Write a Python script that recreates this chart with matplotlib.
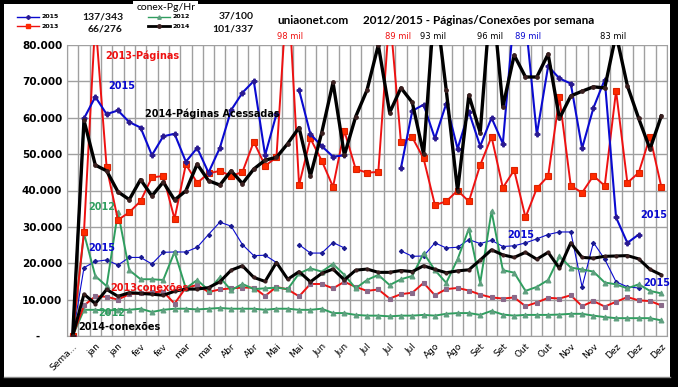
import numpy as np
import matplotlib.pyplot as plt
from matplotlib.patches import Rectangle
from matplotlib.lines import Line2D

nan = np.nan

# 53 categorias: "Semana" + 52 semanas, rotulo a cada 2
rotulos = ["Sema...", "jan", "jan", "fev", "fev", "mar", "mar", "Abr", "Abr",
           "Mai", "Mai", "Jun", "Jun", "Jul", "Jul", "Jul", "Ago", "Ago",
           "Set", "Set", "Out", "Out", "Nov", "Nov", "Dez", "Dez", "Dez"]

# paginas por semana
pg2015 = [0, 59800, 65750, 61000, 62000, 58800, 57300, 49700, 54900, 55600,
          47900, 51700, 44900, 51700, 62100, 66900, 70100, 49700, 61000, nan,
          67600, 55500, 52200, 49300, 49700, nan, nan, nan, nan, 46200,
          61900, 63600, 54300, 63900, 51500, 61600, 52200, 60000, 52900, 89000,
          87000, 55400, 74200, 70800, 69400, 51600, 62700, 70500, 32600, 25600,
          27900, nan, nan]
pg2013 = [0, 28600, 87000, 46400, 31900, 34000, 37100, 43600, 44000, 32200,
          47200, 42100, 44700, 45400, 43950, 45100, 53400, 46800, 49100, 98000,
          41500, 54300, 48200, 41000, 56400, 45900, 44900, 45100, 89000, 53200,
          54600, 48800, 36000, 37000, 40000, 37000, 47000, 54800, 40750, 45600,
          32600, 40600, 43950, 65600, 41300, 39400, 44050, 41300, 67400, 42100,
          44900, 54800, 41000]
pg2014 = [0, 59300, 47000, 45400, 39650, 37500, 43000, 38500, 42300, 37400,
          39900, 47250, 42700, 41500, 45400, 41900, 45900, 48350, 49100, 52900,
          57300, 44000, 55900, 69700, 49700, 60300, 67600, 80000, 61400, 68200,
          64200, 50000, 93000, 67600, 39900, 66200, 55900, 96000, 63000, 77200,
          71200, 71200, 77500, 59800, 66000, 67300, 68500, 68200, 83000, 68800,
          59800, 51400, 60500]
pg2012 = [0, 28200, 16500, 13700, 34100, 18100, 15600, 15600, 15400, 23100,
          13100, 15400, 12600, 16100, 12600, 14300, 12900, 13100, 13300, 12900,
          17200, 18600, 17700, 19800, 16800, 13100, 15400, 16800, 14000, 15600,
          16500, 22800, 18100, 14600, 21100, 29500, 14600, 34300, 18100, 17400,
          12400, 13500, 15400, 21900, 18800, 18300, 17700, 14700, 14200, 13100,
          14200, 12400, 11700]

# conexoes por semana
cx2015 = [0, 18800, 20500, 20900, 19500, 21600, 21600, 19800, 23000, 23100,
          23100, 24400, 27900, 31300, 30200, 25100, 22100, 22200, 20200, nan,
          25100, 22800, 22800, 25700, 24200, nan, nan, nan, nan, 23400,
          21900, 22000, 25600, 24200, 24400, 26500, 25400, 26300, 24600, 24800,
          25600, 26700, 27900, 28600, 28600, 13500, 25700, 21100, 14900, 13500,
          13200, nan, nan]
cx2014 = [0, 11500, 8900, 12800, 10900, 11900, 11700, 11500, 11200, 12300,
          12900, 12900, 13300, 14900, 18100, 19300, 16100, 15000, 20200, 15600,
          17700, 14900, 17200, 18400, 15400, 18100, 18400, 17500, 17500, 18000,
          17700, 19300, 18300, 17400, 17900, 18200, 20900, 23700, 22300, 21600,
          23000, 21100, 23000, 18600, 25600, 21600, 21400, 21900, 22000, 22100,
          21200, 18300, 16800]
cx2013 = [0, 8400, 10900, 10800, 10000, 11500, 11800, 12000, 12200, 8900,
          13300, 14000, 12100, 12800, 13100, 13300, 13300, 11000, 13500, 12800,
          10900, 14300, 14300, 13100, 14900, 13500, 12400, 12800, 10300, 11500,
          11900, 14600, 11200, 12900, 13200, 12500, 11400, 10600, 10300, 10600,
          8200, 9200, 10500, 10300, 11200, 8200, 9600, 8100, 9400, 10700,
          9800, 9600, 8400]
cx2012 = [0, 7200, 7200, 7000, 7200, 7200, 7500, 6600, 7200, 7500,
          7500, 7300, 7500, 7700, 7500, 7500, 7500, 7200, 7500, 7500,
          7200, 7200, 7500, 6300, 6300, 5800, 5600, 5600, 5400, 5600,
          5600, 5800, 5600, 6100, 6300, 6300, 5800, 6900, 5900, 5600,
          5800, 5800, 5800, 5900, 6100, 6100, 5600, 5200, 4900, 4900,
          4900, 4900, 4300]

AZUL = '#0a0ad0'
VERM = '#ee1111'
VERDE = '#2f9e5f'
PRETO = '#000000'

W, H = 678, 387
fig = plt.figure(figsize=(W / 100, H / 100), dpi=100, facecolor='black')
fundo = Rectangle((4 / W, 1 - 377 / H), 666 / W, 373 / H, transform=fig.transFigure,
                  facecolor='white', edgecolor='none', zorder=-5)
fig.add_artist(fundo)
fig.add_artist(Line2D([4 / W, 670 / W], [1 - 377 / H] * 2, color='#888888', lw=1, zorder=-4))

ax = fig.add_axes([67 / W, 1 - 336 / H, 600 / W, 291 / H])
ax.set_facecolor('white')
x = np.arange(53)

def serie(vals, cor, lw, mk, ms, mfc, mec, z):
    ax.plot(x, np.array(vals, dtype=float), color=cor, lw=lw, marker=mk,
            ms=ms, mfc=mfc, mec=mec, mew=0.8, zorder=z)

serie(cx2012, VERDE, 1.4, '^', 3.5, '#5f9f7f', '#5f9f7f', 3)
serie(cx2013, VERM, 1.4, 's', 3, '#8a6a8a', '#8a6a8a', 3)
serie(cx2015, AZUL, 0.8, 'D', 2.2, '#1a1a90', '#1a1a90', 3)
serie(cx2014, PRETO, 2.2, 'o', 2.2, '#3a2020', '#3a2020', 4)
serie(pg2012, VERDE, 1.4, '^', 3.5, '#5f9f7f', '#5f9f7f', 3)
serie(pg2013, VERM, 1.4, 's', 4, '#ff2a00', '#dd2200', 3)
serie(pg2015, AZUL, 1.5, 'P', 3.5, '#2a1a90', '#2a1a90', 3)
serie(pg2014, PRETO, 2.4, 'o', 2.6, '#3a2020', '#3a2020', 4)

ax.set_xlim(-0.5, 52.5)
ax.set_ylim(0, 80000)
ax.set_xticks(x[::2])
ax.set_xticklabels(rotulos, rotation=45, ha='right', rotation_mode='anchor',
                   fontsize=6.5)
ax.set_xticks(np.arange(-0.5, 53, 1), minor=True)
ax.set_yticks(np.arange(0, 80001, 10000))
ax.set_yticklabels(['-      '] + [f'{v // 1000}.000' for v in range(10000, 80001, 10000)],
                   fontsize=7.5, fontweight='bold')
ax.tick_params(which='both', length=0)
ax.tick_params(axis='x', pad=4)
ax.grid(which='minor', axis='x', color='#a0a0a0', lw=1)
ax.grid(which='major', axis='y', color='#a0a0a0', lw=1)
ax.grid(which='major', axis='x', visible=False)
for s in ax.spines.values():
    s.set_color('#a0a0a0')
ax.spines['top'].set_visible(False)

# rotulos das series
ax.text(2.9, 77000, '2013-Páginas', color=VERM, fontsize=7, fontweight='bold', va='center')
ax.text(3.15, 68700, '2015', color=AZUL, fontsize=7, fontweight='bold', va='center')
ax.text(6.4, 61000, '2014-Páginas Acessadas', color=PRETO, fontsize=7, fontweight='bold', va='center')
ax.text(1.4, 35400, '2012', color=VERDE, fontsize=7, fontweight='bold', va='center')
ax.text(1.4, 24200, '2015', color=AZUL, fontsize=7, fontweight='bold', va='center')
ax.text(3.3, 13300, '2013conexões', color=VERM, fontsize=7, fontweight='bold', va='center', zorder=5)
ax.text(2.3, 6300, '2012', color=VERDE, fontsize=7, fontweight='bold', va='center')
ax.text(0.5, 2500, '2014-conexões', color=PRETO, fontsize=7, fontweight='bold', va='center', zorder=5)
ax.text(39.6, 27900, '2015', color=AZUL, fontsize=7, fontweight='bold', ha='center', va='center')
ax.text(51.3, 33400, '2015', color=AZUL, fontsize=7, fontweight='bold', ha='center', va='center')
ax.text(51.6, 14700, '2015', color=AZUL, fontsize=7, fontweight='bold', ha='center', va='center')

picos = [(19.2, '98 mil', VERM), (28.7, '89 mil', VERM), (31.8, '93 mil', PRETO),
         (36.9, '96 mil', PRETO), (40.2, '89 mil', AZUL), (47.7, '83 mil', PRETO)]
for px, txt, cor in picos:
    ax.text(px, 82200, txt, color=cor, fontsize=6, ha='center', va='center')

# cabecalho
def fx(px):
    return px / W

def fy(py):
    return 1 - py / H

fig.text(fx(277), fy(20), 'uniaonet.com', fontsize=8.5, fontweight='bold',
         family='Lato', va='center')
fig.text(fx(363), fy(20), '2012/2015 - Páginas/Conexões por semana', fontsize=8.5,
         fontweight='bold', family='Lato', va='center')

fig.add_artist(Rectangle((fx(133), fy(12)), 65 / W, 11 / H, transform=fig.transFigure,
                         facecolor='white', edgecolor='none', zorder=1))
fig.text(fx(166), fy(7.5), 'conex-Pg/Hr', fontsize=7.5, family='Lato', ha='center',
         va='center', zorder=2)

leg = [(17, 17, AZUL, 'P', 1.0, '#2a1a90', '2015'),
       (17, 26, VERM, 's', 1.0, '#ff2a00', '2013'),
       (148, 17, VERDE, '^', 1.0, '#5f9f7f', '2012'),
       (148, 26, PRETO, 'o', 2.0, '#3a2020', '2014')]
for lx, ly, cor, mk, lw, mc, txt in leg:
    fig.add_artist(Line2D([fx(lx), fx(lx + 11), fx(lx + 22)], [fy(ly)] * 3, color=cor,
                          lw=lw, marker=mk, ms=2.5, mfc=mc, mec=mc, markevery=[1]))
    fig.text(fx(lx + 24), fy(ly), txt, fontsize=4.5, fontweight='bold', va='center')

for cx, cy, txt in [(103, 17.5, '137/343'), (105, 28.5, '66/276'),
                    (236, 16, '37/100'), (233, 28.5, '101/337')]:
    fig.text(fx(cx), fy(cy), txt, fontsize=7.5, fontweight='bold', family='Lato',
             ha='center', va='center', color='#111111')

plt.savefig('out.png', dpi=100, facecolor='black')
